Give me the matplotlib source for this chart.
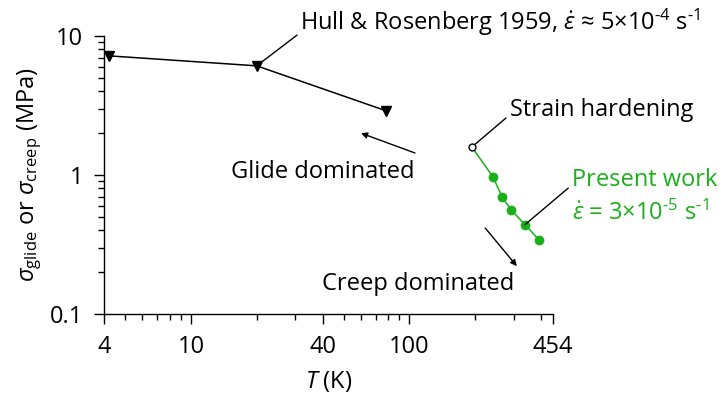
import matplotlib

matplotlib.use("Agg")
import matplotlib.pyplot as plt  # noqa: E402
from matplotlib.ticker import FixedLocator, LogLocator, NullFormatter  # noqa: E402

# Hull & Rosenberg (1959) glide stress
hull_T = [4.2, 20.0, 78.0]
hull_sigma = [7.2, 6.1, 2.9]

# present work, creep stress; first point is the strain-hardening onset
hard_T = 193.0
hard_sigma = 1.59
work_T = [241.0, 265.0, 292.0, 338.0, 392.0]
work_sigma = [0.97, 0.70, 0.56, 0.44, 0.34]

x_ticks = [4, 10, 40, 100, 454]
x_ticklabels = ["4", "10", "40", "100", "454"]
y_ticks = [0.1, 1, 10]
y_ticklabels = ["0.1", "1", "10"]

GREEN = "#19b019"

plt.rcParams["font.family"] = ["Open Sans", "DejaVu Sans"]
plt.rcParams["mathtext.fontset"] = "custom"
plt.rcParams["mathtext.rm"] = "Open Sans"
plt.rcParams["mathtext.it"] = "Open Sans:italic"
plt.rcParams["mathtext.bf"] = "Open Sans:bold"
plt.rcParams["font.size"] = 17

fig = plt.figure(figsize=(7.22, 4.0), dpi=100)
ax = fig.add_axes([0.144, 0.215, 0.622, 0.695])

ax.plot(hull_T, hull_sigma, color="black", lw=1.1, marker="v", ms=7, zorder=3)
ax.plot([hard_T] + work_T, [hard_sigma] + work_sigma, color=GREEN, lw=1.1, zorder=2)
ax.plot(work_T, work_sigma, ls="none", marker="o", ms=6, color=GREEN, zorder=3)
ax.plot([hard_T], [hard_sigma], ls="none", marker="o", ms=5, mfc="white",
        mec="black", mew=1, zorder=4)

ax.set_xscale("log")
ax.set_yscale("log")
ax.set_xlim(4, 454)
ax.set_ylim(0.1, 10)

ax.xaxis.set_major_locator(FixedLocator(x_ticks))
ax.set_xticklabels(x_ticklabels)
ax.xaxis.set_minor_locator(LogLocator(base=10, subs=range(2, 10)))
ax.xaxis.set_minor_formatter(NullFormatter())
ax.yaxis.set_major_locator(FixedLocator(y_ticks))
ax.set_yticklabels(y_ticklabels)
ax.yaxis.set_minor_locator(LogLocator(base=10, subs=range(2, 10)))
ax.yaxis.set_minor_formatter(NullFormatter())
ax.tick_params(which="major", length=7, width=1, pad=8)
ax.tick_params(which="minor", length=4, width=1)

for s in ["top", "right"]:
    ax.spines[s].set_visible(False)
for s in ["left", "bottom"]:
    ax.spines[s].set_linewidth(1)

ax.set_xlabel(r"$T$ (K)", labelpad=7)
ax.set_ylabel(r"$\sigma_{\rm glide}$ or $\sigma_{\rm creep}$ (MPa)", labelpad=4)

# callouts
ax.annotate(r"Hull & Rosenberg 1959, $\dot{\varepsilon}$ ≈ 5×10$^{\text{-4}}$ s$^{\text{-1}}$",
            xy=(hull_T[1], hull_sigma[1]), xytext=(31.5, 12.6),
            ha="left", va="center", annotation_clip=False,
            arrowprops=dict(arrowstyle="-", lw=1, color="black",
                            shrinkA=0, shrinkB=2, relpos=(0, 0.15)))
ax.annotate("Strain hardening", xy=(hard_T, hard_sigma), xytext=(288, 2.94),
            ha="left", va="center", annotation_clip=False,
            arrowprops=dict(arrowstyle="-", lw=1, color="black",
                            shrinkA=1, shrinkB=3, relpos=(0, 0.3)))
ax.annotate("Present work", xy=(work_T[3], work_sigma[3]), xytext=(555, 0.92),
            ha="left", va="center", color=GREEN, annotation_clip=False,
            arrowprops=dict(arrowstyle="-", lw=1, color="black",
                            shrinkA=1, shrinkB=0, relpos=(0, 0.3)))
ax.text(555, 0.53, r"$\dot{\varepsilon}$ = 3×10$^{\text{-5}}$ s$^{\text{-1}}$", color=GREEN,
        ha="left", va="center", clip_on=False)

# regime labels with direction arrows
ax.text(40, 1.05, "Glide dominated", ha="center", va="center")
ax.annotate("", xy=(60, 2.0), xytext=(106, 1.44),
            arrowprops=dict(arrowstyle="-|>", lw=1, color="black",
                            mutation_scale=9, shrinkA=0, shrinkB=0))
ax.text(110, 0.164, "Creep dominated", ha="center", va="center")
ax.annotate("", xy=(310, 0.221), xytext=(222, 0.416),
            arrowprops=dict(arrowstyle="-|>", lw=1, color="black",
                            mutation_scale=9, shrinkA=0, shrinkB=0))

fig.savefig("out.png", dpi=100)
